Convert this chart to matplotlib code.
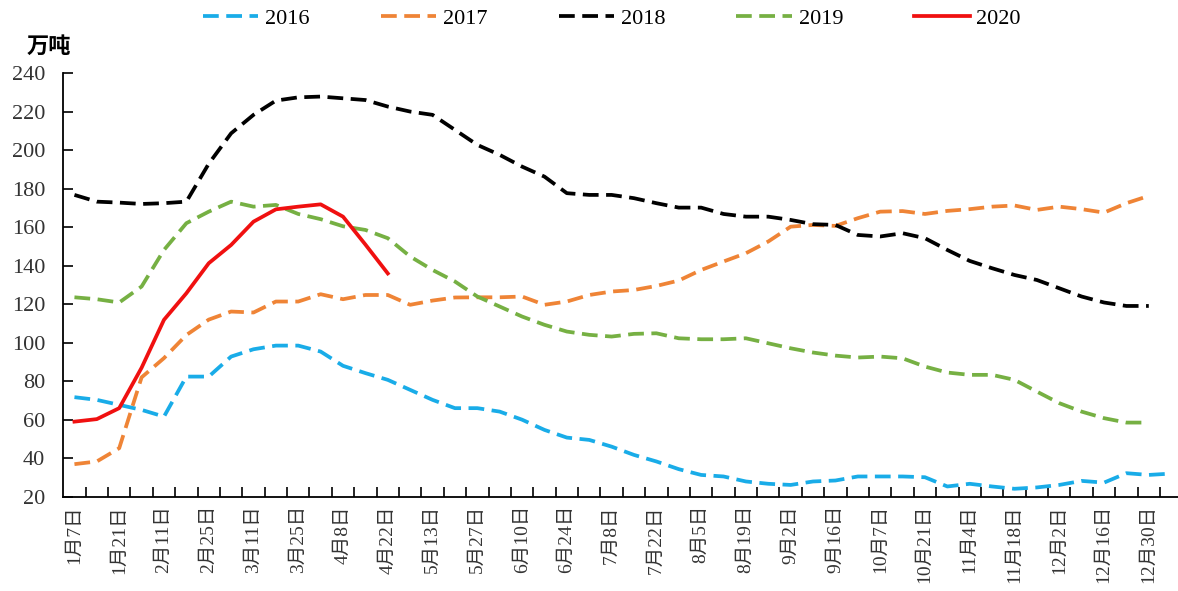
import matplotlib
matplotlib.use("Agg")
import matplotlib.pyplot as plt
import numpy as np

# weekly categories (every other one is labelled)
weeks = ["1月7日", "1月14日", "1月21日", "2月4日", "2月11日", "2月18日", "2月25日",
         "3月4日", "3月11日", "3月18日", "3月25日", "4月1日", "4月8日", "4月15日",
         "4月22日", "5月6日", "5月13日", "5月20日", "5月27日", "6月3日", "6月10日",
         "6月17日", "6月24日", "7月1日", "7月8日", "7月15日", "7月22日", "7月29日",
         "8月5日", "8月12日", "8月19日", "8月26日", "9月2日", "9月9日", "9月16日",
         "9月30日", "10月7日", "10月14日", "10月21日", "10月28日", "11月4日",
         "11月11日", "11月18日", "11月25日", "12月2日", "12月9日", "12月16日",
         "12月23日", "12月30日", ""]

s2016 = [71.7, 70.3, 67.7, 65.1, 61.6, 82.4, 82.4, 92.8, 96.6, 98.5, 98.5, 95.4,
         88.0, 84.2, 80.7, 75.5, 70.3, 66.0, 66.0, 64.2, 60.0, 54.7, 50.7, 49.5,
         46.0, 41.7, 38.3, 34.3, 31.3, 30.5, 27.9, 26.7, 26.1, 27.9, 28.4, 30.5,
         30.5, 30.5, 30.1, 25.3, 26.7, 25.3, 24.1, 24.8, 26.1, 28.2, 27.3, 32.2,
         31.3, 32.0]
s2017 = [36.9, 38.3, 45.2, 82.0, 92.0, 104.0, 112.0, 116.2, 115.7, 121.4, 121.4,
         125.2, 122.6, 124.8, 124.8, 119.7, 121.9, 123.5, 123.6, 123.6, 124.0,
         119.7, 121.4, 124.8, 126.6, 127.4, 129.5, 132.3, 137.8, 142.2, 146.5,
         152.6, 160.3, 161.2, 160.7, 164.7, 168.1, 168.4, 166.9, 168.5, 169.4,
         170.7, 171.3, 169.0, 170.7, 169.4, 167.6, 172.5, 176.3]
s2018 = [176.8, 173.3, 172.8, 172.1, 172.5, 173.3, 193.0, 208.8, 218.4, 225.8,
         227.5, 227.9, 227.0, 226.1, 222.7, 220.1, 218.4, 210.6, 202.8, 197.6,
         191.5, 186.3, 177.7, 176.8, 176.8, 175.1, 172.5, 170.2, 170.2, 166.9,
         165.5, 165.5, 163.8, 161.6, 161.2, 156.0, 155.2, 156.9, 154.3, 148.2,
         142.5, 138.7, 135.2, 132.6, 128.3, 124.0, 120.9, 119.1, 119.1]
s2019 = [123.6, 122.6, 120.9, 129.2, 148.2, 162.1, 168.1, 173.3, 170.7, 171.6,
         166.9, 164.2, 160.5, 158.6, 154.3, 144.8, 137.8, 131.8, 124.0, 118.8,
         113.6, 109.3, 105.8, 104.1, 103.2, 104.6, 104.9, 102.3, 101.8, 101.8,
         102.3, 99.7, 97.1, 94.9, 93.3, 92.3, 92.8, 91.9, 87.6, 84.5, 83.3, 83.3,
         80.7, 74.6, 68.6, 64.2, 60.8, 58.5, 58.5]
s2020 = [59.0, 60.3, 66.0, 87.0, 111.9, 125.7, 141.3, 150.8, 162.9, 169.3, 170.7,
         171.9, 165.5, 151.0, 136.0]

series = [("2016", s2016, "#19ACE8", "dash"),
          ("2017", s2017, "#EF8436", "dash"),
          ("2018", s2018, "#000000", "dash"),
          ("2019", s2019, "#76B043", "dash"),
          ("2020", s2020, "#F01010", "solid")]

serif_cjk = ["Liberation Serif", "Noto Sans CJK SC"]

fig = plt.figure(figsize=(11.78, 5.91), dpi=100)
ax = fig.add_axes([0.0537, 0.1596, 0.95, 0.7164])

for name, vals, color, style in series:
    x = np.arange(len(vals))
    ls = (0, (4.2, 2.0)) if style == "dash" else "-"
    ax.plot(x, vals, color=color, lw=2.7, ls=ls, label=name,
            dash_capstyle="butt", solid_joinstyle="round")

ax.set_xlim(-0.5, len(weeks) - 0.5)
ax.set_ylim(20, 240)
ax.set_yticks(np.arange(20, 241, 20))

ax.set_xticks(np.arange(0, len(weeks), 2))
ax.set_xticklabels(weeks[::2], rotation=90, fontsize=14, family=serif_cjk,
                   color="#333333")
ax.set_xticks(np.arange(0.5, len(weeks) - 0.5, 1), minor=True)
ax.tick_params(axis="x", which="major", length=0, pad=6)
ax.tick_params(axis="x", which="minor", direction="in", length=7, width=1.2)
ax.tick_params(axis="y", direction="in", length=7, width=1.2, pad=13,
               labelsize=16, labelcolor="#333333")
for lab in ax.get_yticklabels():
    lab.set_family("Liberation Serif")

for side in ("top", "right"):
    ax.spines[side].set_visible(False)
for side in ("left", "bottom"):
    ax.spines[side].set_linewidth(1.3)

fig.text(0.023, 0.921, "万吨", fontsize=16, fontweight="bold",
         family=["Noto Sans CJK SC"], va="center", ha="left")

fig.legend(loc="center", bbox_to_anchor=(0.5195, 0.968), ncol=5,
           frameon=False, handlelength=2.5, handletextpad=0.3,
           columnspacing=3.2, prop={"family": "Liberation Serif", "size": 16})

plt.savefig("out.png", dpi=100)
